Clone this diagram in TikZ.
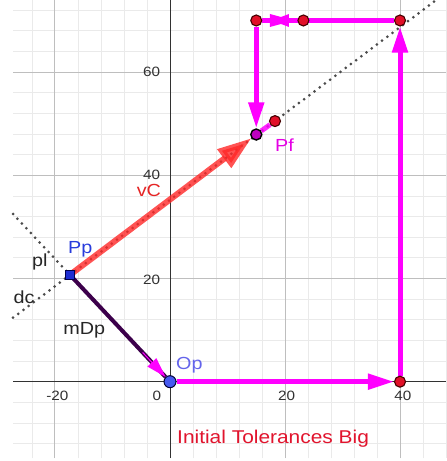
\documentclass[tikz,border=0pt]{standalone}
\usepackage{fontspec}
\newfontfamily\gfont[FakeStretch=1.13]{Liberation Sans}
\usetikzlibrary{arrows.meta}
\definecolor{mag}{RGB}{255,0,255}
\definecolor{gminor}{RGB}{234,234,234}
\definecolor{gmajor}{RGB}{190,190,190}
\definecolor{axisc}{RGB}{50,50,50}
\definecolor{dotred}{RGB}{225,16,40}
\definecolor{dotedge}{RGB}{70,0,0}
\definecolor{opblue}{RGB}{70,90,240}
\definecolor{ppblue}{RGB}{30,45,210}
\definecolor{pfpurple}{RGB}{190,0,190}
\definecolor{vcred}{RGB}{255,40,40}
\definecolor{mdpc}{RGB}{60,0,75}
\definecolor{dotgrey}{RGB}{75,75,75}
\definecolor{labblue}{RGB}{40,60,220}
\definecolor{oplab}{RGB}{100,100,235}
\definecolor{titred}{RGB}{225,20,45}
\pgfdeclarelayer{grid}
\pgfdeclarelayer{lines}
\pgfsetlayers{grid,lines,main}
\tikzset{
  minorline/.style={draw=gminor, line width=0.8pt},
  majorline/.style={draw=gmajor, line width=1pt},
  axisline/.style={draw=axisc, line width=0.9pt},
  ticklab/.style={font=\gfont\fontsize{13.5}{14}\selectfont, text=axisc, inner sep=0pt},
  ptlab/.style={font=\gfont\fontsize{17.5}{18}\selectfont, inner sep=0pt, anchor=base west},
  reddot/.style={circle, fill=dotred, draw=dotedge, line width=1.1pt, minimum size=11pt, inner sep=0pt},
  opdot/.style={circle, fill=opblue, draw=black!80!blue, line width=1pt, minimum size=12pt, inner sep=0pt},
  ppdot/.style={rectangle, fill=ppblue, draw=black!70!blue, line width=1pt, minimum size=9.5pt, inner sep=0pt},
  pfdot/.style={circle, fill=pfpurple, draw=black, line width=1.4pt, minimum size=11pt, inner sep=0pt},
  dottedline/.style={draw=dotgrey, line width=3pt, line cap=round, dash pattern=on 0pt off 6.5pt},
  magarrow/.style={draw=mag, line width=5pt, -{Triangle[length=26pt,width=15pt]}},
  magline/.style={draw=mag, line width=5pt},
}
\begin{document}
\begin{tikzpicture}[x=5.75pt,y=5.16pt]
\useasboundingbox (-29.565,-15.37) rectangle (48.0,73.97);

\begin{pgfonlayer}{grid}
\fill[white] (-29.565,-15.37) rectangle (48.0,73.97);
\foreach \x in {-24,-16,-12,-8,-4,4,8,12,16,24,28,32,36,44,48}
  \draw[minorline] (\x,-14.8) -- (\x,73.97);
\foreach \y in {-12,-8,-4,4,8,12,16,24,28,32,36,44,48,52,56,64,68,72}
  \draw[minorline] (-27.3,\y) -- (48,\y);
\foreach \x in {-20,20,40}
  \draw[majorline] (\x,-14.8) -- (\x,73.97);
\foreach \y in {20,40,60}
  \draw[majorline] (-27.3,\y) -- (48,\y);
\draw[axisline] (-27.3,0) -- (48,0);
\draw[axisline] (0,-14.8) -- (0,73.97);
\end{pgfonlayer}

% tick labels
\node[ticklab, anchor=base] (tm20) at (-19.6,-3.55) {-20};
\node[ticklab, anchor=base] (t0) at (-2.3,-3.55) {0};
\node[ticklab, anchor=base] (t20) at (20.3,-3.55) {20};
\node[ticklab, anchor=base] (t40) at (40.5,-3.55) {40};
\node[ticklab, anchor=east] (ty20) at (-1.7,19.7) {20};
\node[ticklab, anchor=east] (ty40) at (-1.7,40.1) {40};
\node[ticklab, anchor=east] (ty60) at (-1.7,60) {60};

% points
\node[opdot] (Op) at (0,0) {};
\node[ppdot] (Pp) at (-17.4,20.7) {};
\node[pfdot] (Pf) at (15.0,47.9) {};
\node[reddot] (R) at (18.26,50.5) {};
\node[reddot] (D1) at (40,0) {};
\node[reddot] (D2) at (40,70) {};
\node[reddot] (D3) at (23.2,70) {};
\node[reddot] (D4) at (15.0,70) {};
\coordinate (H) at (19.3,70);
\coordinate (dcA) at (-27.3,12.4);
\coordinate (dcB) at (46.3,73.97);
\coordinate (plA) at (-27.3,32.5);

\begin{pgfonlayer}{lines}
\draw[dottedline] (dcA) -- (dcB);
\draw[dottedline] (plA) -- (Pp.center);
\draw[magline] (D2) -- (D4);
\fill[mag] (H) ++(-11pt,6.5pt) -- ++(11pt,-3pt) -- ++(8pt,3pt) -- ++(0,-13pt) -- ++(-8pt,3pt) -- ++(-11pt,-3pt) -- cycle;
\draw[magarrow] (Op) -- (D1);
\draw[magarrow] (D1) -- (D2);
\draw[magarrow] (D4) -- (Pf);
\draw[magline, opacity=0.85] (Pf) -- (R);
\draw[draw=mdpc, line width=4pt] (Pp.center) -- (Op);
\path (Pp.center) -- (Op) coordinate[pos=0.76] (mA);
\draw[draw=mag, line width=1pt, -{Triangle[length=20pt,width=12pt]}] (mA) -- (Op);
\draw[draw=vcred, opacity=0.8, line width=6pt, -{Triangle[length=34pt,width=22pt]}] (Pp.center) -- (Pf);
\end{pgfonlayer}

% labels
\node[ptlab, text=labblue] (lPp) at (-17.74,24.75) {Pp};
\node[ptlab, text=black!85] (lpl) at (-24.0,22.4) {pl};
\node[ptlab, text=black!85] (ldc) at (-27.25,15.06) {dc};
\node[ptlab, text=black!85] (lmDp) at (-18.56,9.24) {mDp};
\node[ptlab, text=oplab] (lOp) at (1.04,2.27) {Op};
\node[ptlab, text=vcred!90!black] (lvC) at (-5.8,35.85) {vC};
\node[ptlab, text=mag!90!black] (lPf) at (18.26,44.57) {Pf};
\node[font=\gfont\fontsize{18.5}{20}\selectfont, inner sep=0pt, anchor=base west, text=titred] (title) at (1.22,-11.94) {Initial Tolerances Big};
\end{tikzpicture}
\end{document}
